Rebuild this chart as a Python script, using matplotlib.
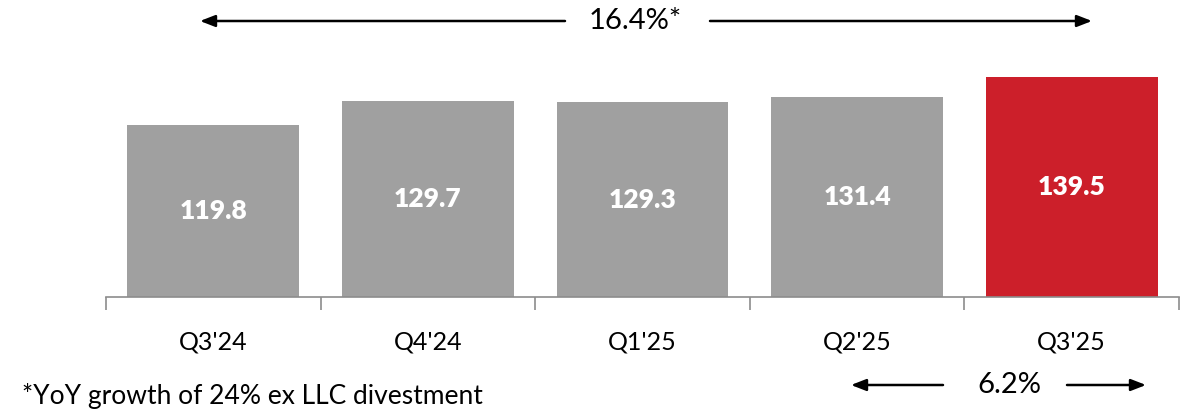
import matplotlib.pyplot as plt
import numpy as np

plt.rcParams["font.family"] = ["Lato", "DejaVu Sans"]

quarters = ["Q3'24", "Q4'24", "Q1'25", "Q2'25", "Q3'25"]
values = [119.8, 129.7, 129.3, 131.4, 139.5]
bar_colors = ['#a0a0a0', '#a0a0a0', '#a0a0a0', '#a0a0a0', '#cc1f2a']
growth_label = '16.4%*'
qoq_label = '6.2%'
footnote = '*YoY growth of 24% ex LLC divestment'

W, H = 1185, 412
fig = plt.figure(figsize=(W / 100, H / 100), dpi=100)
ax = fig.add_axes([106 / W, (H - 297) / H, (1179 - 106) / W, 297 / H])

x_pos = np.arange(len(quarters))
y_min, y_max = 50, 170.8
ax.bar(x_pos, values, 0.8, color=bar_colors)
for x, v in zip(x_pos, values):
    ax.text(x, (v + y_min) / 2, f'{v:.1f}', ha='center', va='center',
            color='white', fontsize=19, fontweight='heavy')

ax.set_xlim(-0.5, len(quarters) - 0.5)
ax.set_ylim(y_min, y_max)

for side in ['top', 'right', 'left']:
    ax.spines[side].set_visible(False)
ax.spines['bottom'].set_color('#8c8c8c')
ax.spines['bottom'].set_linewidth(1.2)
ax.set_yticks([])

# category labels, boundary ticks in between
ax.set_xticks(x_pos)
ax.set_xticklabels(quarters, fontsize=18)
ax.tick_params(axis='x', which='major', length=0, pad=24)
ax.set_xticks(np.arange(-0.5, len(quarters)), minor=True)
ax.tick_params(axis='x', which='minor', length=9, width=1.2, color='#8c8c8c')


def span_arrow(x_left, x_right, x_text, gap_l, gap_r, y, label):
    # two arrows pointing outward from a centred label, pixel coords
    style = dict(arrowstyle='-|>,head_length=0.9,head_width=0.35',
                 color='black', lw=1.8, shrinkA=0, shrinkB=0)
    fig.text(x_text / W, 1 - y / H, label, ha='center', va='center', fontsize=21)
    ax.annotate('', xy=(x_left / W, 1 - y / H), xytext=((x_text - gap_l) / W, 1 - y / H),
                xycoords='figure fraction', textcoords='figure fraction',
                arrowprops=style, annotation_clip=False)
    ax.annotate('', xy=(x_right / W, 1 - y / H), xytext=((x_text + gap_r) / W, 1 - y / H),
                xycoords='figure fraction', textcoords='figure fraction',
                arrowprops=style, annotation_clip=False)


span_arrow(200, 1092, 635, 70, 75, 21, growth_label)
span_arrow(851, 1146, 1009, 66, 58, 385, qoq_label)

fig.text(22 / W, 1 - 396 / H, footnote, ha='left', va='center', fontsize=19)

fig.savefig('out.png', dpi=100)
